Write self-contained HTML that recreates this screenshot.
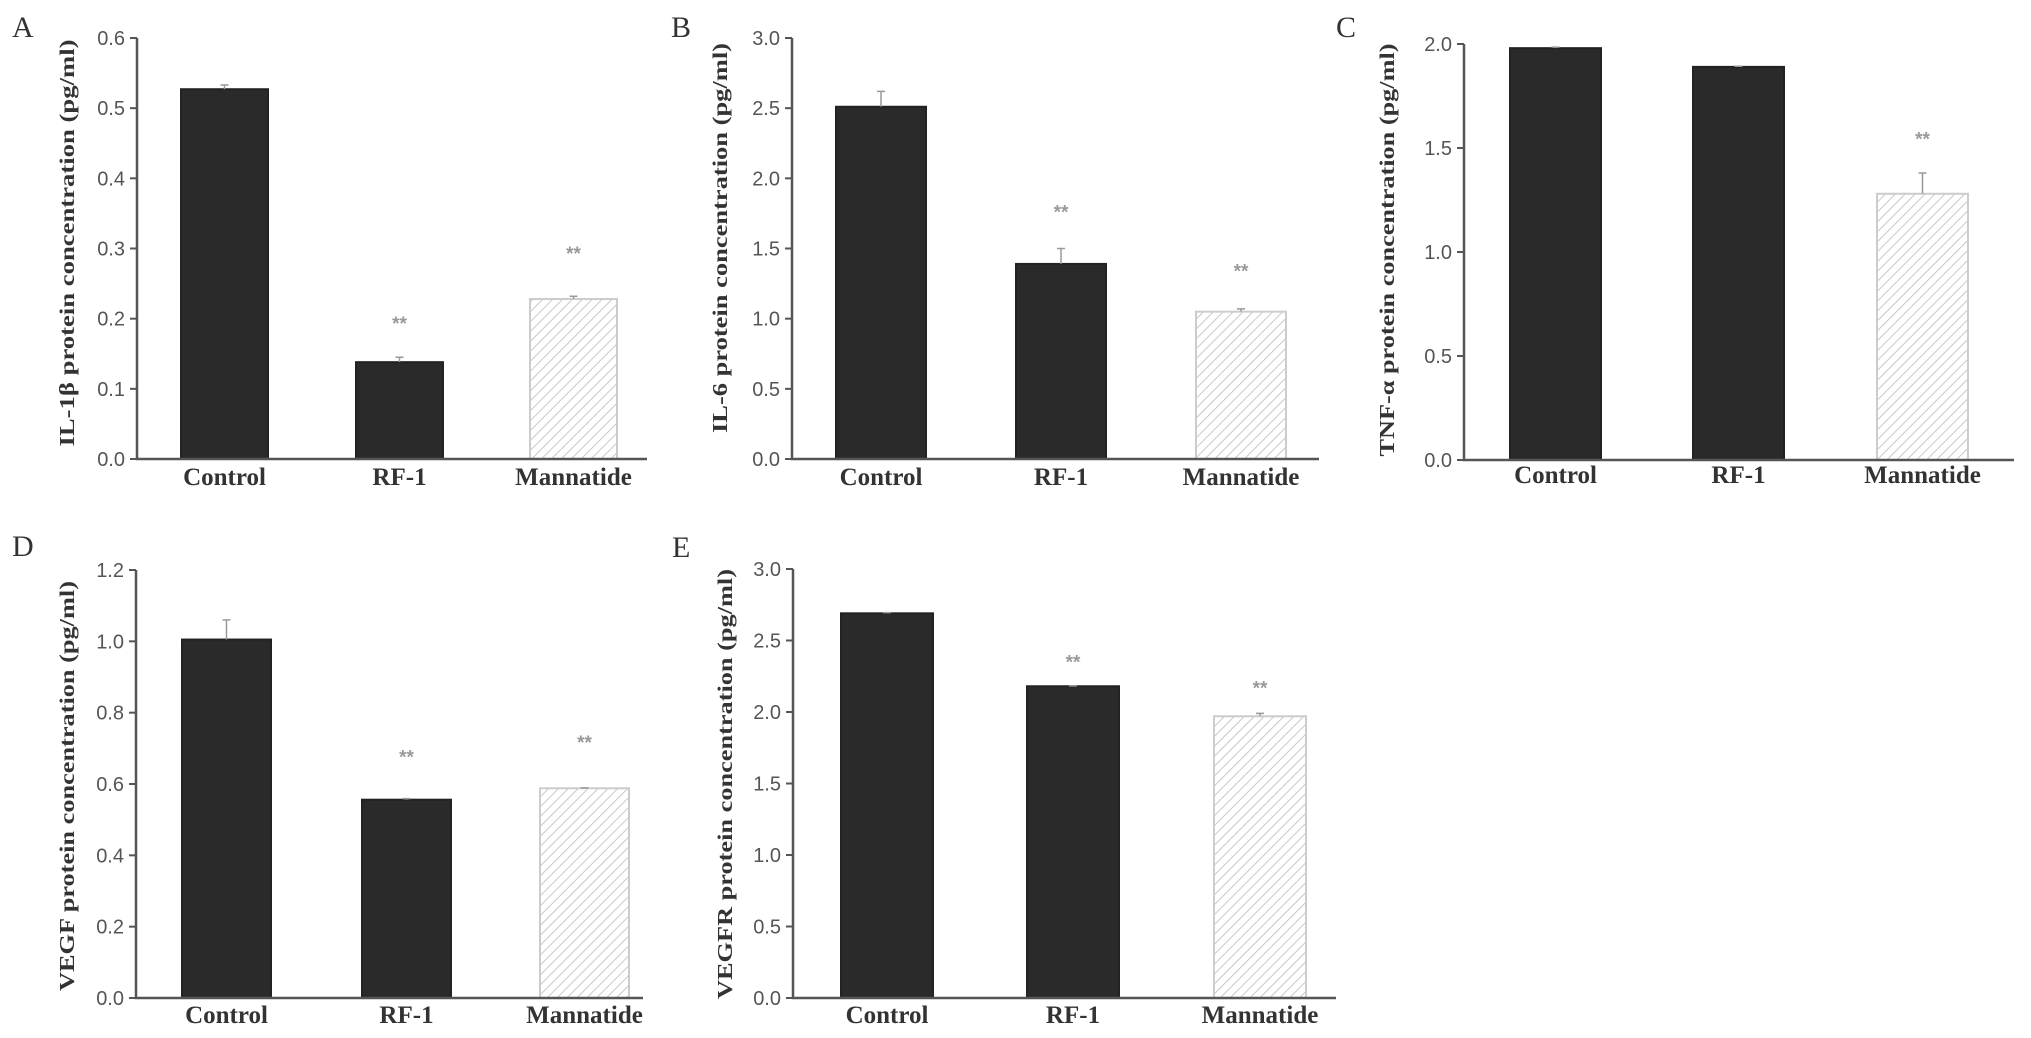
<!DOCTYPE html>
<html><head><meta charset="utf-8"><style>
html,body{margin:0;padding:0;background:#fff;overflow:hidden;}
svg{display:block;}
.tick{font-family:"Liberation Sans",sans-serif;font-size:20px;fill:#555;}
.cat{font-family:"Liberation Serif",serif;font-size:25px;font-weight:bold;fill:#333;}
.ytitle{font-family:"Liberation Serif",serif;font-size:21px;font-weight:bold;fill:#333;}
.letter{font-family:"Liberation Serif",serif;font-size:30px;fill:#333;}
.star{font-family:"Liberation Sans",sans-serif;font-size:19px;font-weight:bold;fill:#999;}
</style></head><body>
<svg id="fig" width="2031" height="1038" viewBox="0 0 2031 1038" xmlns="http://www.w3.org/2000/svg">
<defs>
<pattern id="hatch" patternUnits="userSpaceOnUse" width="7" height="7" patternTransform="rotate(45)">
<rect width="7" height="7" fill="#fff"/><line x1="0" y1="0" x2="0" y2="7" stroke="#bbb" stroke-width="1.6"/>
</pattern>
</defs>
</svg>
<script>
const categories = ["Control","RF-1","Mannatide"];
const valuesA = [0.527, 0.138, 0.228];
const errorsA = [0.006, 0.007, 0.004];
const starsA = [null, 0.195, 0.295];
const valuesB = [2.51, 1.39, 1.05];
const errorsB = [0.11, 0.11, 0.02];
const starsB = [null, 1.77, 1.35];
const valuesC = [1.98, 1.89, 1.28];
const errorsC = [0.005, 0.003, 0.10];
const starsC = [null, null, 1.55];
const valuesD = [1.005, 0.556, 0.588];
const errorsD = [0.055, 0.003, 0.001];
const starsD = [null, 0.68, 0.72];
const valuesE = [2.69, 2.18, 1.97];
const errorsE = [0.005, 0.003, 0.02];
const starsE = [null, 2.36, 2.18];
const ticksA = ["0.0","0.1","0.2","0.3","0.4","0.5","0.6"];
const ticksB = ["0.0","0.5","1.0","1.5","2.0","2.5","3.0"];
const ticksC = ["0.0","0.5","1.0","1.5","2.0"];
const ticksD = ["0.0","0.2","0.4","0.6","0.8","1.0","1.2"];
const ticksE = ["0.0","0.5","1.0","1.5","2.0","2.5","3.0"];

const panels = [
 {id:"a",letter:"A",title:"IL-1β protein concentration (pg/ml)",vals:valuesA,errs:errorsA,stars:starsA,ticks:ticksA,
  ax:137,top:38,zero:459,right:647,bars:[181,356,530],bw:87,lx:12,ly:37,tx:67,tlen:407,tc:243,catY:485},
 {id:"b",letter:"B",title:"IL-6 protein concentration (pg/ml)",vals:valuesB,errs:errorsB,stars:starsB,ticks:ticksB,
  ax:792,top:38,zero:459,right:1319,bars:[836,1016,1196],bw:90,lx:671,ly:37,tx:720,tlen:390,tc:238,catY:485},
 {id:"c",letter:"C",title:"TNF-α protein concentration (pg/ml)",vals:valuesC,errs:errorsC,stars:starsC,ticks:ticksC,
  ax:1464,top:44,zero:460,right:2014,bars:[1510,1693,1877],bw:91,lx:1336,ly:37,tx:1387,tlen:413,tc:250,catY:483},
 {id:"d",letter:"D",title:"VEGF protein concentration (pg/ml)",vals:valuesD,errs:errorsD,stars:starsD,ticks:ticksD,
  ax:136,top:570,zero:998,right:643,bars:[182,362,540],bw:89,lx:12,ly:556,tx:67,tlen:410,tc:786,catY:1023},
 {id:"e",letter:"E",title:"VEGFR protein concentration (pg/ml)",vals:valuesE,errs:errorsE,stars:starsE,ticks:ticksE,
  ax:793,top:569,zero:998,right:1336,bars:[841,1027,1214],bw:92,lx:672,ly:557,tx:725,tlen:430,tc:784,catY:1023}
];
const NS="http://www.w3.org/2000/svg";
const svg=document.getElementById("fig");
function mk(tag,attrs,parent,text){const e=document.createElementNS(NS,tag);for(const k in attrs)e.setAttribute(k,attrs[k]);if(text!==undefined)e.textContent=text;parent.appendChild(e);return e;}
panels.forEach(p=>{
 const g=mk("g",{},svg);
 
 
 const maxV=parseFloat(p.ticks[p.ticks.length-1]);
 const y=v=>p.zero-(v/maxV)*(p.zero-p.top);
 const L=mk("text",{x:p.lx,y:p.ly,class:"letter"},g,p.letter);
 
 
 const T=mk("text",{x:p.tx,y:p.tc,class:"ytitle","text-anchor":"middle",textLength:p.tlen,lengthAdjust:"spacingAndGlyphs",transform:`rotate(-90 ${p.tx} ${p.tc})`,"dominant-baseline":"central"},g,p.title);
 
 
 p.vals.forEach((v,i)=>{
  const x=p.bars[i];
  const r=mk("rect",{x:x,y:y(v),width:p.bw,height:p.zero-y(v),fill:i===2?"url(#hatch)":"#2a2a2a",stroke:i===2?"#ccc":"#222","stroke-width":2},g);
  
  
  const cx=x+p.bw/2;
  const eb=mk("path",{d:`M${cx} ${y(v)} V${y(v+p.errs[i])} M${cx-4} ${y(v+p.errs[i])} H${cx+4}`,stroke:"#999","stroke-width":1.5,fill:"none"},g);
  
  
  if(p.stars[i]!==null){
   const s=mk("text",{x:cx,y:y(p.stars[i])+8,class:"star","text-anchor":"middle"},g,"**");
   
   
  }
  const c=mk("text",{x:cx,y:p.catY,class:"cat","text-anchor":"middle"},g,categories[i]);
  
  
 });
 const ax=mk("path",{d:`M${p.ax} ${p.top} V${p.zero} H${p.right}`,stroke:"#555","stroke-width":2.5,fill:"none"},g);
 
 
 p.ticks.forEach(t=>{
  const v=parseFloat(t), yy=y(v);
  const tk=mk("line",{x1:p.ax-7,x2:p.ax,y1:yy,y2:yy,stroke:"#555","stroke-width":2},g);
  
  
  const tl=mk("text",{x:p.ax-12,y:yy+7,class:"tick","text-anchor":"end"},g,t);
  
  
 });
});
</script>
</body></html>
